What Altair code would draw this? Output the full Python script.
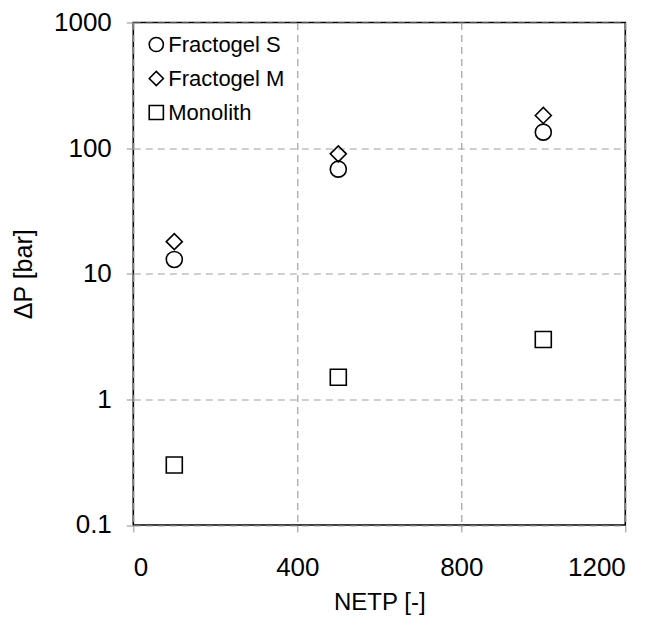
import altair as alt
import pandas as pd

series_names = ["Fractogel S", "Fractogel M", "Monolith"]
netp = [100, 500, 1000]
fractogel_s = [13, 68, 134]
fractogel_m = [18, 90, 182]
monolith = [0.3, 1.5, 3.0]

x_ticks = [0, 400, 800, 1200]
y_ticks = [0.1, 1, 10, 100, 1000]

rows = []
for name, vals in zip(series_names, [fractogel_s, fractogel_m, monolith]):
    for xv, yv in zip(netp, vals):
        rows.append({"series": name, "NETP": xv, "dP": yv})
df = pd.DataFrame(rows)

FONT = "Liberation Sans"

chart = alt.Chart(df).mark_point(
    filled=False, size=256, strokeWidth=1.6, color="black", opacity=1
).encode(
    x=alt.X("NETP:Q",
            scale=alt.Scale(domain=[0, 1200], nice=False, zero=False),
            axis=alt.Axis(values=x_ticks, title="NETP [-]", format="d")),
    y=alt.Y("dP:Q",
            scale=alt.Scale(type="log", domain=[0.1, 1000], nice=False),
            axis=alt.Axis(values=y_ticks, title="\u0394P [bar]", format="~r")),
    shape=alt.Shape("series:N",
                    scale=alt.Scale(domain=series_names,
                                    range=["circle", "diamond", "square"]),
                    legend=alt.Legend(title=None, orient="none",
                                      legendX=12, legendY=11,
                                      symbolSize=200, symbolStrokeWidth=1.6,
                                      symbolStrokeColor="black",
                                      symbolFillColor="transparent",
                                      labelFontSize=22, labelFont=FONT,
                                      labelColor="black",
                                      labelOffset=1, rowPadding=12,
                                      padding=0)),
).properties(
    width=492,
    height=502.5,
    autosize=alt.AutoSizeParams(type="none"),
    padding={"left": 125.3, "top": 14.5, "right": 15, "bottom": 92},
).configure_view(
    stroke="black", strokeWidth=1.6
).configure_axis(
    labelFont=FONT, titleFont=FONT,
    labelFontSize=26, titleFontSize=25,
    labelColor="black", titleColor="black",
    titleFontWeight="normal",
    domain=False,
    grid=True, gridColor="#a0a0a0", gridDash=[7, 5], gridWidth=1.2,
    ticks=True, tickColor="#909090", tickSize=7, tickWidth=1,
).configure_axisX(
    labelPadding=23,
    titlePadding=10,
    titleFontSize=24,
).configure_axisY(
    labelPadding=15,
    titlePadding=17,
)

chart.save("out.html", embed_options={"renderer": "svg", "actions": False})
